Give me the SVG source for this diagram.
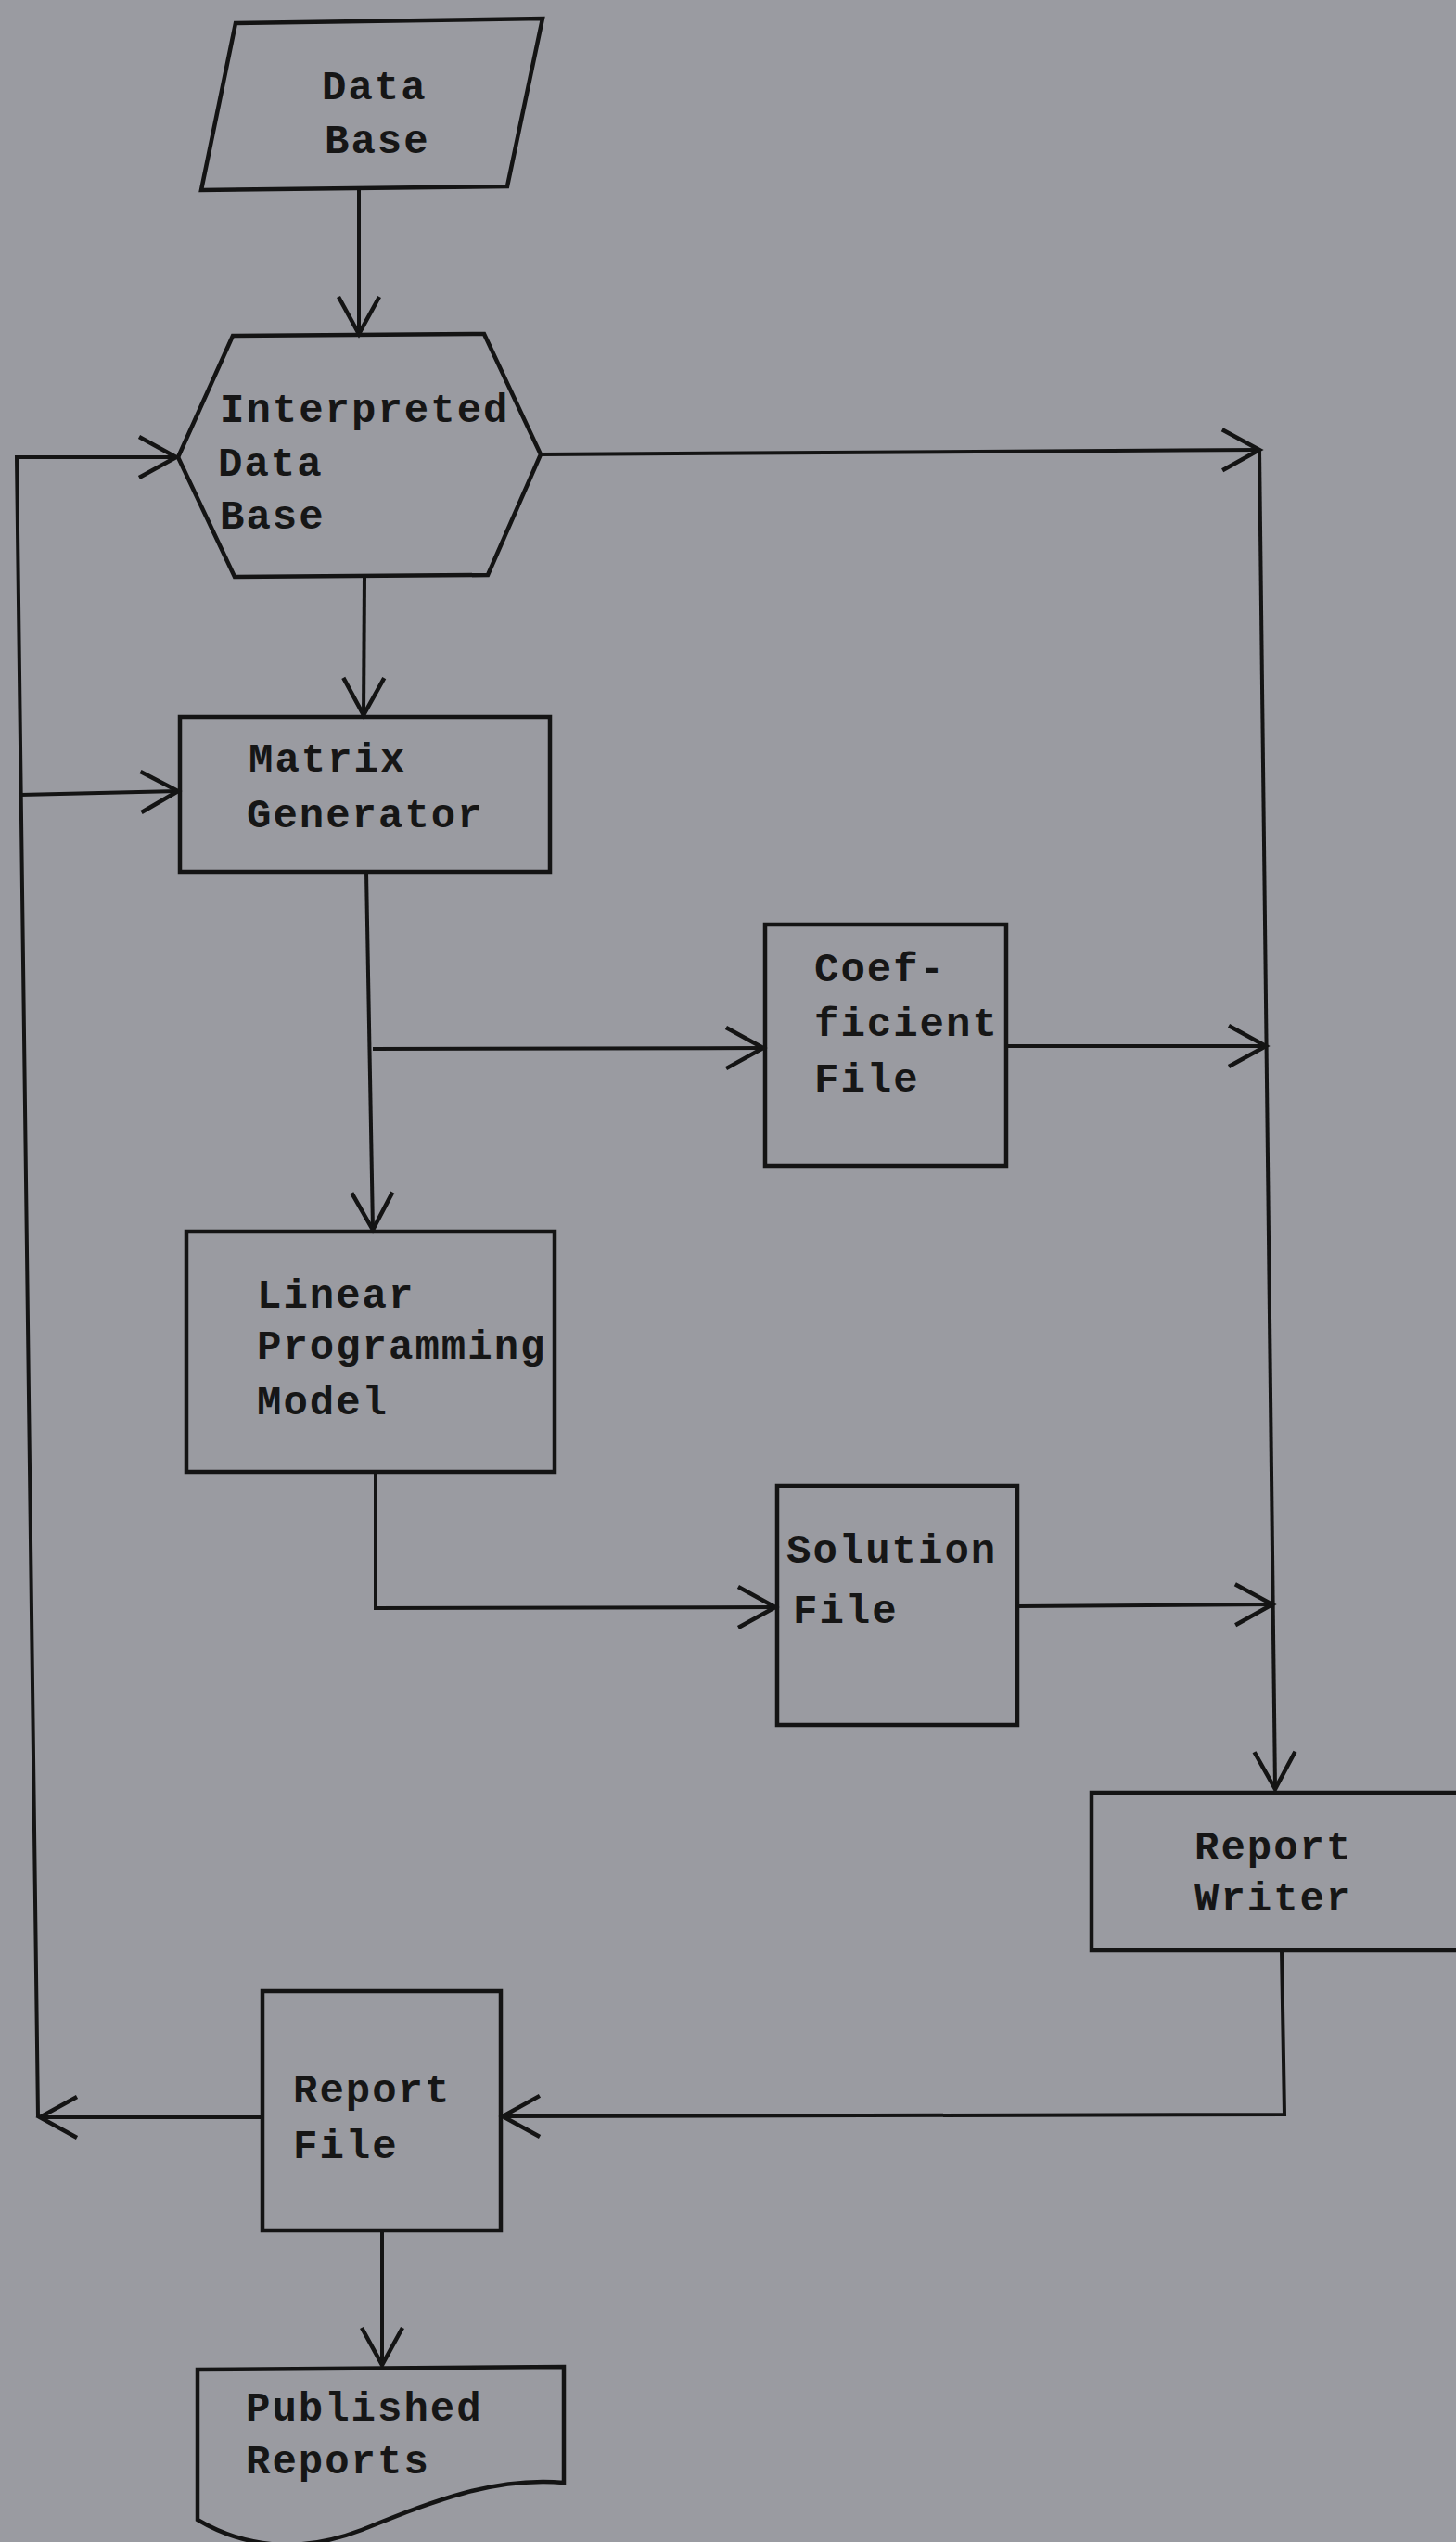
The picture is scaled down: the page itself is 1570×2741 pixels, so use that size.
<svg xmlns="http://www.w3.org/2000/svg" width="1570" height="2741" viewBox="0 0 1570 2741">
<style>
.shape{fill:none;stroke:#141414;stroke-width:4.5;stroke-linejoin:miter}
.conn{fill:none;stroke:#141414;stroke-width:4}
.lbl{font-family:"Liberation Mono","DejaVu Sans Mono",monospace;font-size:44px;font-weight:bold;letter-spacing:2px;fill:#161616}
</style>
<defs>
<marker id="arr" markerUnits="userSpaceOnUse" markerWidth="60" markerHeight="60" viewBox="-50 -30 60 60" refX="0" refY="0" orient="auto">
<path d="M-40,-22 L0,0 L-40,22" fill="none" stroke="#141414" stroke-width="4.5"/>
</marker>
</defs>
<rect x="0" y="0" width="1570" height="2741" fill="#9a9ba1"/>

<g id="connectors">
<path class="conn" d="M387,205 L387,360" marker-end="url(#arr)"/>
<path class="conn" d="M393,622 L392,771" marker-end="url(#arr)"/>
<path class="conn" d="M583,490 L1358,485" marker-end="url(#arr)"/>
<path class="conn" d="M1358,485 L1375,1929" marker-end="url(#arr)"/>
<path class="conn" d="M395,940 L402,1326" marker-end="url(#arr)"/>
<path class="conn" d="M402,1131 L823,1130" marker-end="url(#arr)"/>
<path class="conn" d="M1085,1128 L1365,1128" marker-end="url(#arr)"/>
<path class="conn" d="M405,1587 L405,1734 L836,1733" marker-end="url(#arr)"/>
<path class="conn" d="M1097,1732 L1372,1730" marker-end="url(#arr)"/>
<path class="conn" d="M1382,2103 L1385,2280 L542,2282" marker-end="url(#arr)"/>
<path class="conn" d="M283,2283 L43,2283" marker-end="url(#arr)"/>
<path class="conn" d="M41,2283 L18,493 L190,493" marker-end="url(#arr)"/>
<path class="conn" d="M22,857 L192,853" marker-end="url(#arr)"/>
<path class="conn" d="M412,2405 L412,2550" marker-end="url(#arr)"/>
</g>

<g id="data-base">
<polygon class="shape" points="254,25 585,20 547,201 217,205"/>
<text class="lbl" x="347" y="107">Data</text>
<text class="lbl" x="350" y="165">Base</text>
</g>

<g id="interpreted-data-base">
<polygon class="shape" points="251,362 522,360 583,490 526,620 253,622 192,493"/>
<text class="lbl" x="237" y="455">Interpreted</text>
<text class="lbl" x="235" y="513">Data</text>
<text class="lbl" x="237" y="570">Base</text>
</g>

<g id="matrix-generator">
<rect class="shape" x="194" y="773" width="399" height="167"/>
<text class="lbl" x="268" y="832">Matrix</text>
<text class="lbl" x="266" y="892">Generator</text>
</g>

<g id="coefficient-file">
<rect class="shape" x="825" y="997" width="260" height="260"/>
<text class="lbl" x="878" y="1058">Coef-</text>
<text class="lbl" x="878" y="1117">ficient</text>
<text class="lbl" x="878" y="1177">File</text>
</g>

<g id="linear-programming-model">
<rect class="shape" x="201" y="1328" width="397" height="259"/>
<text class="lbl" x="277" y="1410">Linear</text>
<text class="lbl" x="277" y="1465">Programming</text>
<text class="lbl" x="277" y="1525">Model</text>
</g>

<g id="solution-file">
<rect class="shape" x="838" y="1602" width="259" height="258"/>
<text class="lbl" x="848" y="1685">Solution</text>
<text class="lbl" x="855" y="1750">File</text>
</g>

<g id="report-writer">
<rect class="shape" x="1177" y="1933" width="400" height="170"/>
<text class="lbl" x="1288" y="2005">Report</text>
<text class="lbl" x="1288" y="2060">Writer</text>
</g>

<g id="report-file">
<rect class="shape" x="283" y="2147" width="257" height="258"/>
<text class="lbl" x="316" y="2267">Report</text>
<text class="lbl" x="316" y="2327">File</text>
</g>

<g id="published-reports">
<path class="shape" d="M213,2555 L608,2552 L608,2677 C530,2670 460,2700 390,2728 C320,2755 260,2745 213,2717 Z"/>
<text class="lbl" x="265" y="2610">Published</text>
<text class="lbl" x="265" y="2667">Reports</text>
</g>
</svg>
